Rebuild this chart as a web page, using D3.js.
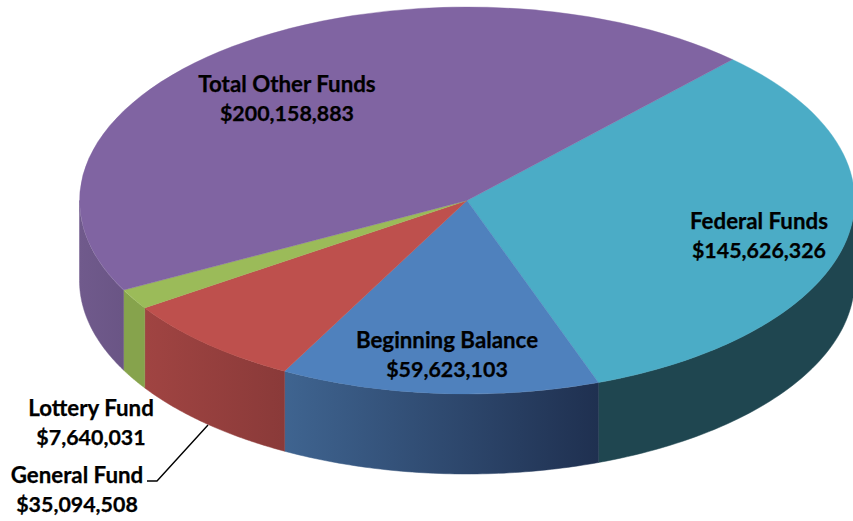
<!DOCTYPE html>
<html>
<head>
<meta charset="utf-8">
<script src="https://cdn.jsdelivr.net/npm/d3@7"></script>
<style>
  html, body { margin: 0; background: #fff; }
  text { font-family: Lato, "Open Sans", sans-serif; font-weight: 700; font-size: 22.3px; fill: #000; stroke: #000; stroke-width: 0.25px; }
  .amount { font-size: 21.4px; }
</style>
</head>
<body>
<svg id="chart" width="853" height="521"></svg>
<script>
// pie order runs clockwise from the Federal / Other Funds edge
const categories = ["Federal Funds", "Beginning Balance", "General Fund", "Lottery Fund", "Total Other Funds"];
const values = [145626326, 59623103, 35094508, 7640031, 200158883];

const topColors = ["#4BACC6", "#4F81BD", "#BE504D", "#9BBB59", "#8064A2"];
const wallFrom = ["#1F4650", "#3F6490", "#A04442", "#86A34C", "#705A8C"];
const wallTo = ["#1F4650", "#1F3050", "#8A3A39", "#86A34C", "#6A5585"];

const labelX = [759, 447, 77, 91, 287];
const labelY = [229, 348, 483, 416, 92];
const lineGap = 29;

const width = 853, height = 521;
const cx = 467, cy = 200.5, rx = 387.5, ry = 193.5, depth = 80;

const svg = d3.select("#chart");
const defs = svg.append("defs");

const fmt = d3.format("$,");
const startDeg = 43.2;

const arcs = d3.pie()
  .sort(null)
  .startAngle(startDeg * Math.PI / 180)
  .endAngle((startDeg + 360) * Math.PI / 180)(values);

// ellipse point for a clockwise-from-north angle
const px = a => cx + rx * Math.sin(a);
const py = a => cy - ry * Math.cos(a);

const PI = Math.PI;

// the visible wall is the front half of the ellipse, which is 90deg..270deg
function wallRange(d) {
  let a0 = Math.max(d.startAngle, PI / 2);
  let a1 = Math.min(d.endAngle, 3 * PI / 2);
  return a1 > a0 ? [a0, a1] : null;
}

function wallPath(a0, a1) {
  const steps = d3.range(0, 61).map(i => a0 + (a1 - a0) * i / 60);
  const pts = steps.map(a => [px(a), py(a)])
    .concat(steps.slice().reverse().map(a => [px(a), py(a) + depth]));
  return d3.line()(pts) + "Z";
}

arcs.forEach((d, i) => {
  const r = wallRange(d);
  if (!r) return;
  const g = defs.append("linearGradient")
    .attr("id", "wall" + i)
    .attr("gradientUnits", "userSpaceOnUse")
    .attr("x1", px(r[1])).attr("x2", px(r[0]))
    .attr("y1", 0).attr("y2", 0);
  g.append("stop").attr("offset", 0).attr("stop-color", wallFrom[i]);
  g.append("stop").attr("offset", 1).attr("stop-color", wallTo[i]);

  // same fill as stroke hides the hairline between neighbouring walls
  svg.append("path")
    .attr("d", wallPath(r[0], r[1]))
    .attr("fill", `url(#wall${i})`)
    .attr("stroke", `url(#wall${i})`)
    .attr("stroke-width", 0.5);
});

const arc = d3.arc().innerRadius(0).outerRadius(1);

svg.append("g")
  .attr("transform", `translate(${cx},${cy}) scale(${rx},${ry})`)
  .selectAll("path")
  .data(arcs)
  .enter().append("path")
  .attr("d", arc)
  .attr("fill", (d, i) => topColors[i])
  .attr("stroke", (d, i) => topColors[i])
  .attr("stroke-width", 0.4)
  .attr("vector-effect", "non-scaling-stroke");

// leader for General Fund
svg.append("path")
  .attr("d", d3.line()([[208, 425], [157, 481], [147, 481]]))
  .attr("fill", "none")
  .attr("stroke", "#000")
  .attr("stroke-width", 1.4);

const label = svg.append("g")
  .selectAll("text")
  .data(categories)
  .enter().append("text")
  .attr("text-anchor", "middle")
  .attr("x", (d, i) => labelX[i])
  .attr("y", (d, i) => labelY[i]);

label.append("tspan").text(d => d);
label.append("tspan")
  .attr("class", "amount")
  .attr("x", (d, i) => labelX[i])
  .attr("dy", lineGap)
  .text((d, i) => fmt(values[i]));
</script>
</body>
</html>
